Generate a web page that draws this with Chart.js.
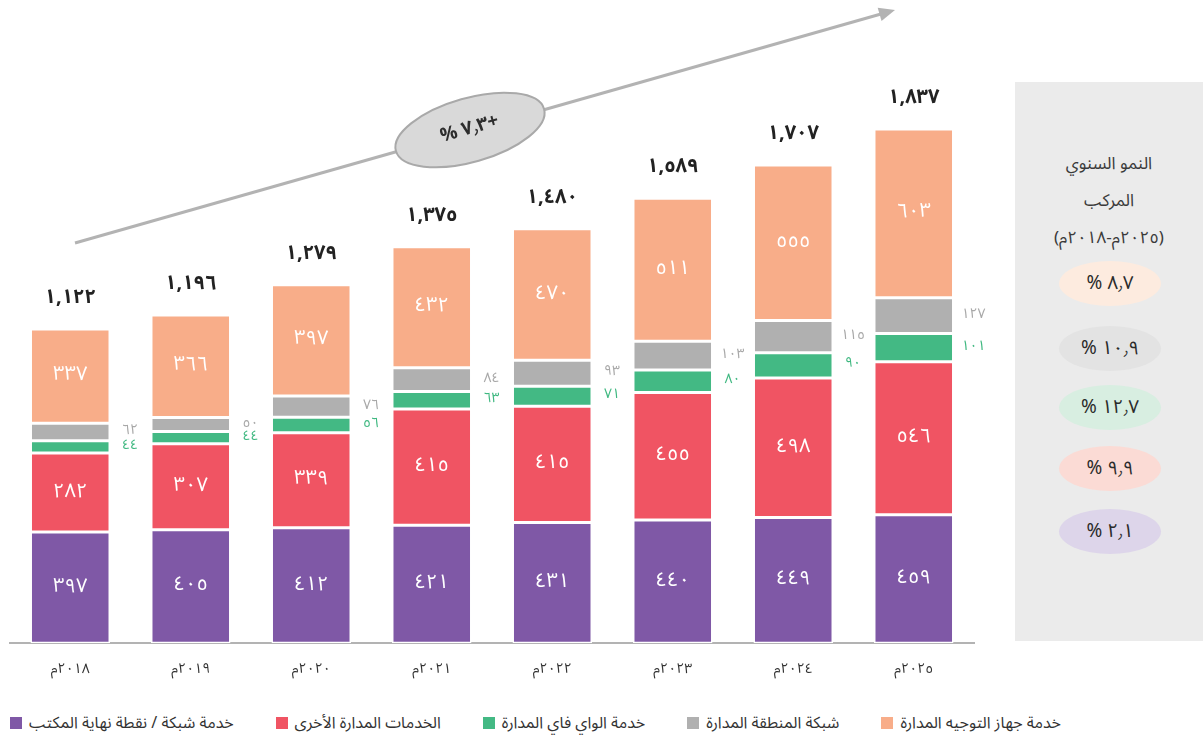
<!DOCTYPE html>
<html lang="ar">
<head>
<meta charset="utf-8">
<script src="https://cdn.jsdelivr.net/npm/chart.js@4.4.1/dist/chart.umd.min.js"></script>
<style>
  html, body { margin:0; padding:0; background:#fff; }
  body { width:1203px; height:740px; position:relative; overflow:hidden; font-family:"Noto Sans Arabic","DejaVu Sans",sans-serif; }
  #wrap { position:absolute; left:0; top:0; width:1000px; height:700px; }
  #panel { position:absolute; left:1015px; top:82px; width:188px; height:559px; background:#ebebeb; }
  .ph { position:absolute; left:0; width:188px; text-align:center; font-size:17px; color:#3a3a3a; direction:rtl; }
  .pill { position:absolute; left:44px; width:102px; height:45px; border-radius:50%; text-align:center; line-height:45px; font-size:19px; color:#2b2b2b; direction:ltr; }
  #legend { position:absolute; left:10px; top:706px; display:flex; align-items:center; gap:42px; font-size:16px; color:#333; white-space:nowrap; }
  .li { display:flex; align-items:center; gap:7px; }
  .sw { width:12px; height:12px; display:inline-block; }
  .lt { direction:rtl; }
</style>
</head>
<body>
<div id="wrap"><canvas id="c" width="1000" height="700"></canvas></div>
<div id="panel"></div>
<div id="legend"></div>
<script>
// ---- data ----
const years = ['٢٠١٨م','٢٠١٩م','٢٠٢٠م','٢٠٢١م','٢٠٢٢م','٢٠٢٣م','٢٠٢٤م','٢٠٢٥م'];
const seriesNames = ['خدمة شبكة / نقطة نهاية المكتب','الخدمات المدارة الأخرى','خدمة الواي فاي المدارة','شبكة المنطقة المدارة','خدمة جهاز التوجيه المدارة'];
const endpointService = [397,405,412,421,431,440,449,459];
const otherManaged    = [282,307,339,415,415,455,498,546];
const wifiManaged     = [44,44,56,63,71,80,90,101];
const lanManaged      = [62,50,76,84,93,103,115,127];
const routerManaged   = [337,366,397,432,470,511,555,603];
const totals          = [1122,1196,1279,1375,1480,1589,1707,1837];
const cagrHeader = ['النمو السنوي','المركب','(٢٠٢٥م-٢٠١٨م)'];
const cagrValues = ['٨٫٧','١٠٫٩','١٢٫٧','٩٫٩','٢٫١'];
const overallGrowth = '٧٫٣';

const colors = ['#7f58a6','#f05463','#43b984','#b0b0b0','#f8ad89'];
const pillColors = ['#fdebdf','#e3e3e3','#d8eee1','#fbdbd5','#ddd5ea'];

const AR = '٠١٢٣٤٥٦٧٨٩';
const toAr = n => String(n).replace(/\d/g, d => AR[+d]);
const fmtThousands = n => { const s = String(n); return s.length > 3 ? toAr(s.slice(0, s.length-3)) + ',' + toAr(s.slice(-3)) : toAr(s); };

const FONT = '"Noto Sans Arabic","DejaVu Sans",sans-serif';

// ---- plugins ----
const labelPlugin = {
  id: 'segLabels',
  afterDatasetsDraw(chart) {
    const ctx = chart.ctx;
    ctx.save();
    ctx.direction = 'ltr';
    ctx.textBaseline = 'middle';
    ctx.textAlign = 'center';
    chart.data.datasets.forEach((ds, i) => {
      const meta = chart.getDatasetMeta(i);
      meta.data.forEach((bar, j) => {
        const v = ds.data[j];
        const cy = (bar.y + bar.base) / 2;
        if (i === 2 || i === 3) {
          ctx.font = '14px ' + FONT;
          ctx.fillStyle = i === 2 ? '#3fb880' : '#a8a8a8';
          ctx.fillText(toAr(v), bar.x + bar.width / 2 + 20, cy);
        } else {
          ctx.font = '20px ' + FONT;
          ctx.fillStyle = '#ffffff';
          ctx.fillText(toAr(v), bar.x, cy + 1);
        }
      });
    });
    const top = chart.getDatasetMeta(chart.data.datasets.length - 1);
    ctx.font = 'bold 20px ' + FONT;
    ctx.fillStyle = '#222';
    top.data.forEach((bar, j) => {
      ctx.fillText(fmtThousands(totals[j]), bar.x, bar.y - 29);
    });
    ctx.restore();
  }
};

const trendPlugin = {
  id: 'trend',
  afterDraw(chart) {
    const ctx = chart.ctx;
    ctx.save();
    const x0 = 75, y0 = 243, x1 = 895, y1 = 10;
    const ang = Math.atan2(y1 - y0, x1 - x0);
    ctx.strokeStyle = '#b3b3b3';
    ctx.lineWidth = 3;
    ctx.beginPath();
    ctx.moveTo(x0, y0);
    ctx.lineTo(x1 - 10 * Math.cos(ang), y1 - 10 * Math.sin(ang));
    ctx.stroke();
    ctx.fillStyle = '#b3b3b3';
    ctx.beginPath();
    ctx.moveTo(x1, y1);
    ctx.lineTo(x1 - 16 * Math.cos(ang) + 7 * Math.sin(ang), y1 - 16 * Math.sin(ang) - 7 * Math.cos(ang));
    ctx.lineTo(x1 - 16 * Math.cos(ang) - 7 * Math.sin(ang), y1 - 16 * Math.sin(ang) + 7 * Math.cos(ang));
    ctx.closePath();
    ctx.fill();
    const ex = 470, ey = 130;
    ctx.translate(ex, ey);
    ctx.rotate(ang);
    ctx.beginPath();
    ctx.ellipse(0, 0, 77, 32, 0, 0, Math.PI * 2);
    ctx.fillStyle = '#d9d9d9';
    ctx.fill();
    ctx.lineWidth = 2;
    ctx.strokeStyle = '#a9a9a9';
    ctx.stroke();
    ctx.fillStyle = '#2d2d2d';
    ctx.font = 'bold 19px ' + FONT;
    ctx.direction = 'ltr';
    ctx.textAlign = 'center';
    ctx.textBaseline = 'middle';
    ctx.fillText('% ' + overallGrowth + '+', 0, 1);
    ctx.restore();
  }
};

const series = [endpointService, otherManaged, wifiManaged, lanManaged, routerManaged];

new Chart(document.getElementById('c'), {
  type: 'bar',
  data: {
    labels: years,
    datasets: series.map((d, i) => ({
      label: seriesNames[i],
      data: d,
      backgroundColor: colors[i],
      borderColor: '#ffffff',
      borderWidth: 1.5,
      borderSkipped: false,
      categoryPercentage: 1,
      barPercentage: 0.66
    }))
  },
  options: {
    responsive: false,
    animation: false,
    layout: { padding: { left: 10, right: 26, top: 27, bottom: 2 } },
    plugins: { legend: { display: false }, tooltip: { enabled: false } },
    scales: {
      x: {
        stacked: true,
        grid: { display: false, drawTicks: false },
        border: { display: true, color: '#b3b3b3', width: 2 },
        ticks: { color: '#333', font: { size: 14, family: FONT }, padding: 19 }
      },
      y: {
        stacked: true,
        display: false,
        min: 0,
        max: 2200
      }
    }
  },
  plugins: [labelPlugin, trendPlugin]
});

// ---- side panel ----
const panel = document.getElementById('panel');
const headerTops = [64, 101, 138];
cagrHeader.forEach((t, i) => {
  const d = document.createElement('div');
  d.className = 'ph';
  d.style.top = headerTops[i] + 'px';
  d.textContent = t;
  panel.appendChild(d);
});
const pillTops = [179, 244, 303, 364, 427];
cagrValues.forEach((v, i) => {
  const d = document.createElement('div');
  d.className = 'pill';
  d.style.top = pillTops[i] + 'px';
  d.style.background = pillColors[i];
  d.textContent = '% ' + v;
  panel.appendChild(d);
});

// ---- legend ----
const legend = document.getElementById('legend');
seriesNames.forEach((n, i) => {
  const li = document.createElement('div');
  li.className = 'li';
  li.innerHTML = '<span class="sw" style="background:' + colors[i] + '"></span><span class="lt">' + n + '</span>';
  legend.appendChild(li);
});
</script>
</body>
</html>
